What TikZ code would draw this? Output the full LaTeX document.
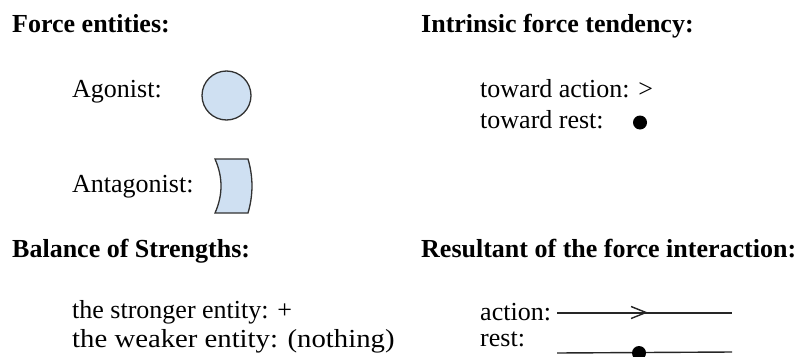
\documentclass[tikz,border=0pt]{standalone}
\usepackage{fontspec}
\setmainfont{Liberation Serif}
\definecolor{entfill}{RGB}{207,224,242}
\definecolor{entline}{RGB}{50,50,50}
\begin{document}
\begin{tikzpicture}[x=1pt,y=-1pt,
  heading/.style={anchor=base west,inner sep=0pt,font=\fontsize{26}{30}\selectfont\bfseries},
  body/.style={anchor=base west,inner sep=0pt,font=\fontsize{26}{30}\selectfont},
  entity/.style={draw=entline,fill=entfill,line width=1.3pt},
  resline/.style={draw=black!85,line width=1.4pt}]
\useasboundingbox (0,0) rectangle (805,356);
% headings
\node[heading] (hfe) at (12,32) {Force entities:};
\node[heading] (hift) at (421,32) {Intrinsic force tendency:};
\node[heading] (hbs) at (12,257) {Balance of Strengths:};
\node[heading] (hrfi) at (421,257) {Resultant of the force interaction:};
% force entities
\node[body] (ago) at (72,97) {Agonist:};
\draw[entity] (226.5,95.5) circle[radius=24.5];
\node[body] (ant) at (72,192) {Antagonist:};
\draw[entity] (215,159) -- (248,159) .. controls (253.3,177) and (253.3,195) .. (248,213)
  -- (215,213) .. controls (223,195) and (223,177) .. (215,159) -- cycle;
% intrinsic tendency
\node[body] (ta) at (480,97) {toward action: >};
\node[body] (tr) at (480,128) {toward rest:};
\fill[black] (640,122.5) circle[radius=7];
% balance
\node[body] (str) at (72,318) {the stronger entity: +};
\node[body,xscale=1.105,transform shape] (weak) at (72,347) {the weaker entity: (nothing)};
% resultant
\node[body] (act) at (480,320) {action:};
\node[body] (rst) at (480,346) {rest:};
\coordinate (a1) at (557,313);
\coordinate (a2) at (732,313);
\draw[resline] (a1) -- (a2);
\draw[resline,line join=miter] (631,306.5) -- (646,312.5) -- (631,318.5);
\coordinate (r1) at (557,353);
\coordinate (r2) at (732,352);
\draw[resline] (r1) -- (r2);
\fill[black] (639,353) circle[radius=7];
\end{tikzpicture}
\end{document}
